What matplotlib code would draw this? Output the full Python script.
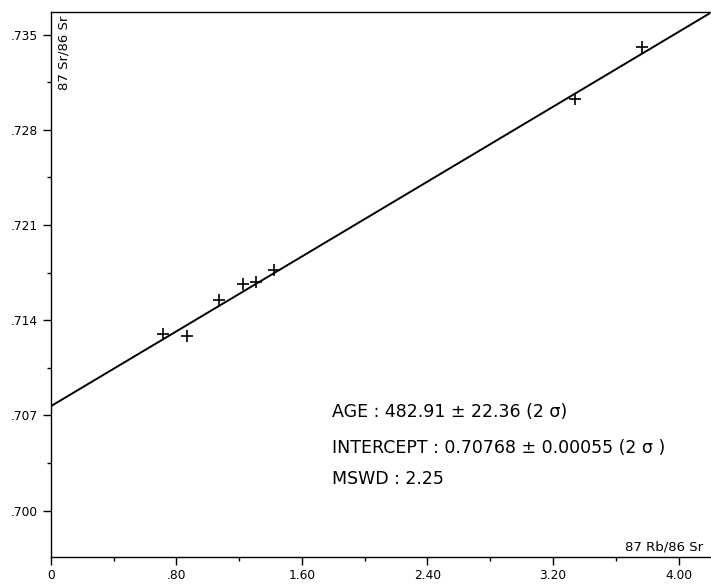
import matplotlib
matplotlib.use("Agg")
import matplotlib.pyplot as plt
import numpy as np

plt.rcParams['font.family'] = ['DejaVu Sans']

# Data
rb_sr = [0.717, 0.866, 1.073, 1.222, 1.307, 1.422, 3.339, 3.768]
sr_sr = [0.7130, 0.71287, 0.71547, 0.71668, 0.71683, 0.71768, 0.73026, 0.73407]

intercept = 0.70768
slope = 0.00688

x_major = [0.0, 0.8, 1.6, 2.4, 3.2, 4.0]
x_major_labels = ["0", ".80", "1.60", "2.40", "3.20", "4.00"]
x_minor = [0.4, 1.2, 2.0, 2.8, 3.6]
y_major = [0.700, 0.707, 0.714, 0.721, 0.728, 0.735]
y_major_labels = [".700", ".707", ".714", ".721", ".728", ".735"]
y_minor = [0.7035, 0.7105, 0.7175, 0.7245, 0.7315]

stats_lines = [
    "AGE : 482.91 \u00b1 22.36 (2 \u03c3)",
    "INTERCEPT : 0.70768 \u00b1 0.00055 (2 \u03c3 )",
    "MSWD : 2.25",
]

xlim = (0.0, 4.2)
ylim = (0.6966, 0.73666)

fig = plt.figure(figsize=(7.11, 5.85), dpi=100)
ax = fig.add_axes([0.0714, 0.0479, 0.9272, 0.9316])

xl = np.array(xlim)
ax.plot(xl, intercept + slope * xl, color='black', lw=1.4, solid_capstyle='butt')
ax.plot(rb_sr, sr_sr, linestyle='none', marker='+', markersize=9,
        markeredgewidth=1.2, color='black')

ax.set_xlim(*xlim)
ax.set_ylim(*ylim)

ax.set_xticks(x_major)
ax.set_xticklabels(x_major_labels)
ax.set_xticks(x_minor, minor=True)
ax.set_yticks(y_major)
ax.set_yticklabels(y_major_labels)
ax.set_yticks(y_minor, minor=True)

ax.tick_params(axis='both', which='major', direction='out', length=6, width=1.0,
               labelsize=8.8, pad=3)
ax.tick_params(axis='both', which='minor', direction='out', length=3, width=1.0)

ax.spines['right'].set_visible(False)
for s in ['left', 'bottom', 'top']:
    ax.spines[s].set_linewidth(1.0)

ax.text(0.02, 0.994, "87 Sr/86 Sr", rotation=90, ha='center', va='top',
        transform=ax.transAxes, fontsize=9.5)
ax.text(0.989, 0.011, "87 Rb/86 Sr", ha='right', va='baseline',
        transform=ax.transAxes, fontsize=9.5)

ypos = [0.2563, 0.1914, 0.1334]
for t, yy in zip(stats_lines, ypos):
    ax.text(0.426, yy, t, ha='left', va='baseline', transform=ax.transAxes,
            fontsize=12.5)

fig.savefig("out.png", dpi=100)
